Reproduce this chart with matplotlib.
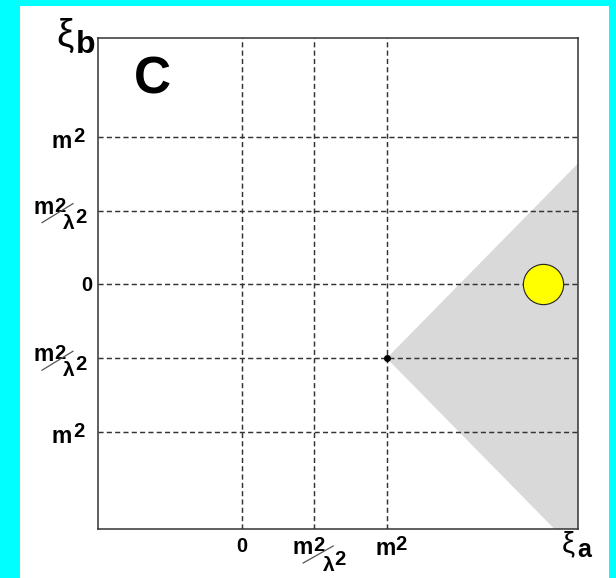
import matplotlib
matplotlib.use("Agg")
import matplotlib.pyplot as plt
import matplotlib.transforms as mtransforms
from matplotlib.lines import Line2D
from matplotlib.patches import Rectangle, Polygon

plt.rcParams['font.family'] = ['Liberation Sans', 'DejaVu Sans']

# posições das marcas (unidades arbitrárias: m2/lambda2 = 1, m2 = 2)
xticks_pos = [0, 1, 2]
xticks_lab = ['0', 'frac', 'm2']
yticks_pos = [2, 1, 0, -1, -2]
yticks_lab = ['m2', 'frac', '0', 'frac', 'm2']

xlim = (-1.982, 4.639)
ylim = (-3.314, 3.339)

# vértice da região cinza e ponto amarelo
vertice = (2, -1)
ponto = (4.15, 0.0)

cor_grade = '#333333'
FM = 16.5   # tamanho do "m"
FD = 14.5   # tamanho dos "2" e do "0"

fig = plt.figure(figsize=(6.16, 5.78), dpi=100, facecolor='#00ffff')
fig.add_artist(Rectangle((20 / 616, 0), 589 / 616, 572 / 578,
                         transform=fig.transFigure, facecolor='white',
                         edgecolor='none', zorder=-10))

ax = fig.add_axes([98 / 616, 49 / 578, 480 / 616, 491 / 578])
ax.set_xlim(*xlim)
ax.set_ylim(*ylim)
ax.set_xticks([])
ax.set_yticks([])
for sp in ax.spines.values():
    sp.set_color('#333333')
    sp.set_linewidth(1.1)

# região cinza (cunha com inclinação +-1 a partir do vértice)
vx, vy = vertice
xr = xlim[1] + 0.5
cunha = Polygon([(vx, vy), (xr, vy + (xr - vx)), (xr, vy - (xr - vx))],
                closed=True, facecolor='#d9d9d9', edgecolor='none', zorder=1)
ax.add_patch(cunha)

# grade tracejada
for xv in xticks_pos:
    ax.axvline(xv, color=cor_grade, lw=1.05, ls=(0, (3.5, 2.2)), zorder=2)
for yv in yticks_pos:
    ax.axhline(yv, color=cor_grade, lw=1.05, ls=(0, (3.5, 2.2)), zorder=2)

ax.plot([vx], [vy], 'o', color='black', ms=4, zorder=4)
ax.plot([ponto[0]], [ponto[1]], 'o', color='#ffff00', mec='#222222', mew=0.8,
        ms=29, zorder=5)

ax.text(0.075, 0.886, 'C', transform=ax.transAxes, fontsize=37,
        fontweight='bold', ha='left', va='baseline')

fig.canvas.draw()


def put(tr, xy, dx, dy, s, ha='left', va='baseline', size=FD, weight='bold'):
    ax.annotate(s, xy=xy, xycoords=tr, xytext=(dx, dy),
                textcoords='offset pixels', ha=ha, va=va, fontsize=size,
                fontweight=weight, annotation_clip=False)


def barra(tr, xy, p1, p2):
    bx, by = tr.transform(xy)
    t = mtransforms.Affine2D().translate(bx, by)
    fig.add_artist(Line2D([p1[0], p2[0]], [p1[1], p2[1]], transform=t,
                          color='#555555', lw=0.9))


ty = ax.get_yaxis_transform()
for yv, lab in zip(yticks_pos, yticks_lab):
    xy = (0, yv)
    if lab == 'm2':
        put(ty, xy, -26, -11, 'm', ha='right', size=FM)
        put(ty, xy, -25, -5, '2')
    elif lab == 'frac':
        put(ty, xy, -44, -3, 'm', ha='right', size=FM)
        put(ty, xy, -44, -1, '2')
        barra(ty, xy, (-56, -12), (-25, 7))
        put(ty, xy, -35, -18, 'λ', size=15)
        put(ty, xy, -23, -12, '2')
    else:
        put(ty, xy, -6, -7, lab, ha='right')

tx = ax.get_xaxis_transform()
for xv, lab in zip(xticks_pos, xticks_lab):
    xy = (xv, 0)
    if lab == 'm2':
        put(tx, xy, 9, -26, 'm', ha='right', size=FM)
        put(tx, xy, 9, -21, '2')
    elif lab == 'frac':
        put(tx, xy, -1, -25, 'm', ha='right', size=FM)
        put(tx, xy, -1, -22, '2')
        barra(tx, xy, (-11, -34), (19, -17))
        put(tx, xy, 9, -42, 'λ', size=15)
        put(tx, xy, 20, -36, '2')
    else:
        put(tx, xy, 0, -23, lab, ha='center')

# rótulos dos eixos
ta = ax.transAxes
put(ta, (0, 1), -42, -8, 'ξ', size=28, weight='normal')
put(ta, (0, 1), -3, -15, 'b', ha='right', size=23)
put(ta, (1, 0), -16, -23, 'ξ', size=21, weight='normal')
put(ta, (1, 0), -1, -28, 'a', size=18)

fig.savefig('out.png', dpi=100, facecolor=fig.get_facecolor())
